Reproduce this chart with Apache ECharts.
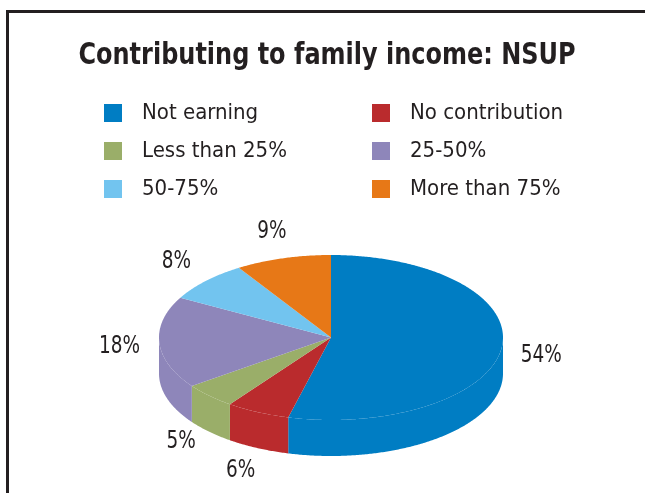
<!DOCTYPE html>
<html>
<head>
<meta charset="utf-8">
<script src="https://cdn.jsdelivr.net/npm/echarts@6/dist/echarts.min.js"></script>
<style>
  html, body { margin: 0; padding: 0; background: #ffffff; }
  #chart { width: 645px; height: 493px; }
</style>
</head>
<body>
<div id="chart"></div>
<script>
// Share of NSUP respondents by how much they contribute to family income
const categories = ['Not earning', 'No contribution', 'Less than 25%', '25-50%', '50-75%', 'More than 75%'];
const shares = [54, 6, 5, 18, 8, 9];
const palette = ['#007DC3', '#BA2B2D', '#9AAE69', '#8E86BA', '#72C4EF', '#E77817'];
const chartTitle = 'Contributing to family income: NSUP';

const FONT = "'Liberation Sans Narrow', 'DejaVu Sans Condensed', 'Arial Narrow', sans-serif";
const INK = '#231F20';

// Tilted pie geometry (top face ellipse + visible rim depth)
const pie = { cx: 331, cy: 337.5, rx: 172, ry: 82.5, depth: 36 };
const total = shares.reduce((a, b) => a + b, 0);

function rimPoint(deg, dy) {
  const r = deg * Math.PI / 180;
  return [pie.cx + pie.rx * Math.sin(r), pie.cy - pie.ry * Math.cos(r) + dy];
}

function arc(a0, a1, dy) {
  const pts = [];
  const steps = Math.max(2, Math.ceil(Math.abs(a1 - a0) / 0.5));
  for (let k = 0; k <= steps; k++) pts.push(rimPoint(a0 + (a1 - a0) * k / steps, dy));
  return pts;
}

function renderSlice(index, params, api) {
  const value = api.value(0);
  let before = 0;
  for (let k = 0; k < index; k++) before += shares[k];
  const start = before / total * 360;
  const end = start + value / total * 360;
  const color = api.visual('color');
  const children = [];

  // front rim wall (visible between 90deg and 270deg, clockwise from 12 o'clock)
  const lo = Math.max(start, 90), hi = Math.min(end, 270);
  if (lo < hi) {
    const wall = arc(lo, hi, 0).concat(arc(hi, lo, pie.depth));
    children.push({ type: 'polygon', shape: { points: wall }, style: { fill: color }, z2: 1 });
  }

  // top face
  const top = [[pie.cx, pie.cy]].concat(arc(start, end, 0));
  children.push({ type: 'polygon', shape: { points: top }, style: { fill: color }, z2: 2 });

  // outside value label, narrowed to a condensed face
  const mid = (start + end) / 2;
  const r = mid * Math.PI / 180;
  const s = Math.sin(r), c = Math.cos(r);
  const lx = pie.cx + (pie.rx + 40) * s;
  const ly = pie.cy - (pie.ry + 28) * c + (c < 0 ? pie.depth * -c : 0);
  children.push({
    type: 'text', z2: 3, x: lx, y: ly, scaleX: 0.82,
    style: {
      x: 0, y: 0, text: value + '%', fill: INK,
      font: '25px ' + FONT, align: 'center', verticalAlign: 'middle'
    }
  });
  return { type: 'group', children };
}

const series = categories.map((name, i) => ({
  type: 'custom',
  name,
  coordinateSystem: 'none',
  itemStyle: { color: palette[i] },
  data: [[shares[i]]],
  renderItem: (params, api) => renderSlice(i, params, api),
  animation: false
}));

const legendText = { color: INK, fontFamily: FONT, fontSize: 22, lineHeight: 26, padding: [0, 0, 0, 15] };

const option = {
  backgroundColor: '#ffffff',
  animation: false,
  legend: [
    {
      data: [categories[0], categories[2], categories[4]],
      orient: 'vertical', left: 104, top: 100, padding: 0,
      icon: 'rect', itemWidth: 18, itemHeight: 18, itemGap: 12,
      selectedMode: false, textStyle: legendText
    },
    {
      data: [categories[1], categories[3], categories[5]],
      orient: 'vertical', left: 372, top: 100, padding: 0,
      icon: 'rect', itemWidth: 18, itemHeight: 18, itemGap: 12,
      selectedMode: false, textStyle: legendText
    }
  ],
  graphic: [
    { type: 'line', shape: { x1: 6, y1: 11.5, x2: 645, y2: 11.5 }, style: { stroke: INK, lineWidth: 3 } },
    { type: 'line', shape: { x1: 7.5, y1: 10, x2: 7.5, y2: 493 }, style: { stroke: INK, lineWidth: 3 } },
    {
      // chart title, condensed bold
      type: 'text', x: 327, y: 55.5, scaleX: 0.86,
      style: {
        x: 0, y: 0, text: chartTitle, fill: INK,
        font: 'bold 31px ' + FONT, align: 'center', verticalAlign: 'middle'
      }
    }
  ],
  series
};

const chart = echarts.init(document.getElementById('chart'), null, { renderer: 'canvas' });
chart.setOption(option);
</script>
</body>
</html>
